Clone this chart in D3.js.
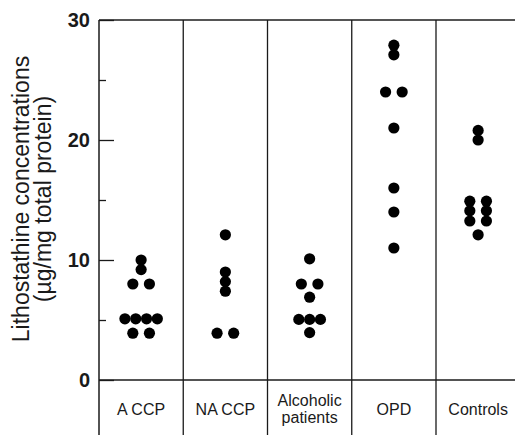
<!DOCTYPE html>
<html>
<head>
<meta charset="utf-8">
<script src="https://cdnjs.cloudflare.com/ajax/libs/d3/7.8.5/d3.min.js"></script>
<style>
  body { margin: 0; background: #fff; }
  svg { display: block; font-family: "Liberation Sans", Arial, sans-serif; }
</style>
</head>
<body>
<div id="chart"></div>
<script>
"use strict";

// group names (bottom row) and values per group
let categories = ["A CCP", "NA CCP", "Alcoholic patients", "OPD", "Controls"];
let aCCP = [10, 9.2, 8, 8, 5.1, 5.1, 5.1, 5.1, 3.9, 3.9];
let naCCP = [12.1, 9, 8.2, 7.4, 3.9, 3.9];
let alcoholic = [10.1, 8, 8, 6.9, 5.05, 5.05, 5.05, 3.95];
let opd = [27.9, 27.1, 24, 24, 21, 16, 14, 11];
let controls = [20.8, 20, 14.9, 14.9, 14.1, 14.1, 13.25, 13.25, 12.1];
let groups = [aCCP, naCCP, alcoholic, opd, controls];

let majorTicks = [0, 10, 20, 30];
let minorTicks = [5, 15, 25];

let W = 515, H = 435;
let plotLeft = 99, plotTop = 20, plotBottom = 380, colW = 84.25;

let svg = d3.select("#chart")
    .append("svg")
    .attr("width", W)
    .attr("height", H);

let x = d3.scaleBand()
    .domain(categories)
    .range([plotLeft, plotLeft + colW * categories.length])
    .padding(0);

let y = d3.scaleLinear()
    .domain([0, 30])
    .range([plotBottom, plotTop]);

let ink = "#1a1a1a";

// frame: top edge, baseline, left axis, column dividers
svg.append("line")
    .attr("x1", plotLeft).attr("x2", W)
    .attr("y1", plotTop).attr("y2", plotTop)
    .attr("stroke", "#555").attr("stroke-width", 1.8);
svg.append("line")
    .attr("x1", plotLeft).attr("x2", W)
    .attr("y1", y(0)).attr("y2", y(0))
    .attr("stroke", ink).attr("stroke-width", 1.5);
svg.append("line")
    .attr("x1", plotLeft).attr("x2", plotLeft)
    .attr("y1", plotTop).attr("y2", H)
    .attr("stroke", ink).attr("stroke-width", 1.5);
svg.selectAll("line.divider")
    .data(categories.slice(1))
    .join("line")
    .attr("class", "divider")
    .attr("x1", d => x(d)).attr("x2", d => x(d))
    .attr("y1", plotTop).attr("y2", H)
    .attr("stroke", ink).attr("stroke-width", 1.3);

// y axis: long ticks with labels, short ticks between
let yAxis = svg.append("g")
    .attr("transform", `translate(${plotLeft},0)`)
    .call(d3.axisLeft(y).tickValues(majorTicks).tickSize(-15).tickPadding(9));
yAxis.select(".domain").remove();
yAxis.selectAll(".tick line").attr("stroke", ink).attr("stroke-width", 1.3);
yAxis.selectAll(".tick text")
    .attr("fill", ink)
    .attr("font-size", 20)
    .attr("font-weight", "bold")
    .attr("font-family", "Liberation Sans, Arial, sans-serif");

let yMinor = svg.append("g")
    .attr("transform", `translate(${plotLeft},0)`)
    .call(d3.axisLeft(y).tickValues(minorTicks).tickSize(-7).tickFormat(""));
yMinor.select(".domain").remove();
yMinor.selectAll(".tick line").attr("stroke", ink).attr("stroke-width", 1.3);

// y axis title, two lines
let title = svg.append("text")
    .attr("transform", `translate(29,199) rotate(-90)`)
    .attr("text-anchor", "middle")
    .attr("font-size", 23)
    .attr("fill", ink);
title.append("tspan").attr("x", 0).attr("dy", 0).text("Lithostathine concentrations");
title.append("tspan").attr("x", 0).attr("dy", 22).text("(\u00b5g/mg total protein)");

// category labels under the baseline
let labels = svg.selectAll("text.cat")
    .data(categories)
    .join("text")
    .attr("class", "cat")
    .attr("text-anchor", "middle")
    .attr("font-size", 16)
    .attr("fill", ink)
    .attr("x", d => x(d) + x.bandwidth() / 2)
    .attr("y", 415);
labels.each(function (d) {
    let t = d3.select(this);
    if (d === "Alcoholic patients") {
        t.attr("y", 406);
        t.append("tspan").attr("x", x(d) + x.bandwidth() / 2).text("Alcoholic");
        t.append("tspan").attr("x", x(d) + x.bandwidth() / 2).attr("dy", 16.5).text("patients");
    } else {
        t.text(d);
    }
});

// dots: equal values sit side by side in a row
let r = 5.6;
let points = [];
groups.forEach((vals, gi) => {
    let cx = x(categories[gi]) + x.bandwidth() / 2;
    let rows = d3.group(vals, v => v);
    rows.forEach((row, v) => {
        let n = row.length;
        let step = n === 2 ? 16.6 : 10.8;
        row.forEach((_, i) => {
            points.push({ x: cx + (i - (n - 1) / 2) * step, v: v });
        });
    });
});

svg.selectAll("circle.dot")
    .data(points)
    .join("circle")
    .attr("class", "dot")
    .attr("cx", d => d.x)
    .attr("cy", d => y(d.v))
    .attr("r", r)
    .attr("fill", "#000");
</script>
</body>
</html>
